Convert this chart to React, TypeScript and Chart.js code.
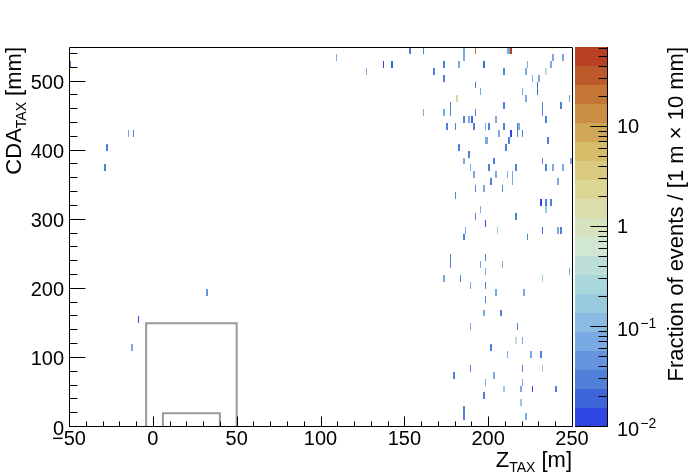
import React, { useEffect, useRef } from "react";
import { Chart, registerables } from "chart.js";

Chart.register(...registerables);

// ---- axes ----
const X_MIN = -50;
const X_MAX = 250;
const X_MAJOR = 50;
const X_MINOR = 10;
const Y_MIN = 0;
const Y_MAX = 550;
const Y_MAJOR = 100;
const Y_MINOR = 20;
const Z_MIN = 0.01;
const Z_MAX = 63;
const Z_LEVELS = 20;
const X_BIN = 1; // m
const Y_BIN = 10; // mm

const X_TITLE = ["Z", "TAX", " [m]"];
const Y_TITLE = ["CDA", "TAX", " [mm]"];
const Z_TITLE = "Fraction of events / [1 m \u00d7 10 mm]";
const Z_MAJOR_VALUES = [0.01, 0.1, 1, 10];
const Z_MAJOR_BASE = ["10", "10", "1", "10"];
const Z_MAJOR_EXP = ["\u22122", "\u22121", "", ""];

// ---- gray acceptance boxes ----
const OUTER_BOX_Z = [-4, -4, 50, 50];
const OUTER_BOX_CDA = [0, 150, 150, 0];
const INNER_BOX_Z = [6, 6, 40, 40];
const INNER_BOX_CDA = [0, 20, 20, 0];

// ---- histogram cells: [Z bin low edge (m), CDA bin low edge (mm), fraction] ----
const CELLS_UPPER: [number, number, number][] = [
  [153, 540, 0.03], [161, 540, 0.03], [185, 540, 0.07], [192, 540, 21], [211, 540, 0.07], [212, 540, 0.07], [213, 540, 50],
  [109, 530, 0.07], [185, 530, 0.07], [238, 530, 0.07], [244, 530, 0.07],
  [-50, 520, 0.03], [137, 520, 0.012], [142, 520, 0.02], [173, 520, 0.03], [182, 520, 0.07], [197, 520, 0.02], [223, 520, 0.07], [237, 520, 0.07],
  [127, 510, 0.07], [167, 510, 0.03], [209, 510, 0.03], [222, 510, 0.07], [234, 510, 0.41],
  [173, 500, 0.03], [226, 500, 0.07], [230, 500, 0.07],
  [192, 490, 0.03], [229, 490, 0.02],
  [195, 480, 0.07], [220, 480, 0.07], [229, 480, 0.02],
  [181, 470, 2.4], [222, 470, 0.07], [248, 470, 0.07],
  [177, 460, 0.03], [209, 460, 0.03], [232, 460, 0.03], [243, 460, 0.03],
  [161, 450, 0.07], [173, 450, 0.07], [177, 450, 0.03], [192, 450, 0.03], [232, 450, 0.03],
  [185, 440, 0.03], [188, 440, 0.07], [190, 440, 0.02], [204, 440, 0.07], [234, 440, 0.03],
  [175, 430, 0.03], [180, 430, 0.03], [191, 430, 0.03], [198, 430, 0.07], [200, 430, 0.03], [209, 430, 0.03], [217, 430, 0.03], [218, 430, 0.07],
  [-15, 420, 0.07], [-12, 420, 0.03], [206, 420, 0.07], [213, 420, 0.012], [217, 420, 0.03], [220, 420, 0.03],
  [198, 410, 0.07], [199, 410, 0.07], [212, 410, 0.03], [235, 410, 0.03],
  [-28, 400, 0.03], [182, 400, 0.03], [210, 400, 0.03],
];

const CELLS_MIDDLE: [number, number, number][] = [
  [188, 390, 0.03],
  [185, 380, 0.07], [203, 380, 0.03], [232, 380, 0.03], [249, 380, 0.07],
  [-29, 370, 0.03], [189, 370, 0.07], [200, 370, 0.03], [216, 370, 0.03], [234, 370, 0.03], [238, 370, 0.07], [244, 370, 0.07],
  [191, 360, 0.07], [204, 360, 0.07], [211, 360, 0.07], [214, 360, 0.07],
  [201, 350, 0.03], [214, 350, 0.07], [241, 350, 0.07],
  [192, 340, 0.03], [197, 340, 0.07], [208, 340, 0.03],
  [180, 330, 0.03],
  [231, 320, 0.012], [234, 320, 0.03], [237, 320, 0.03],
  [195, 310, 0.07], [234, 310, 0.17],
  [192, 300, 0.03], [216, 300, 0.03],
  [198, 290, 0.012],
  [186, 280, 0.07], [205, 280, 0.17], [232, 280, 0.02], [241, 280, 0.07], [243, 280, 0.03],
  [185, 270, 0.03], [223, 270, 0.03],
  [177, 240, 0.03], [198, 240, 0.03],
  [177, 230, 0.03], [195, 230, 0.07], [208, 230, 0.07],
  [198, 220, 0.07], [248, 220, 0.07],
  [173, 210, 0.07], [183, 210, 0.03], [232, 210, 0.17],
  [189, 200, 0.07], [198, 200, 0.03],
];

const CELLS_LOWER: [number, number, number][] = [
  [32, 190, 0.045], [204, 190, 0.07], [221, 190, 0.07],
  [198, 180, 0.03],
  [197, 160, 0.07], [207, 160, 0.03],
  [-9, 150, 0.012],
  [189, 140, 0.07], [217, 140, 0.03],
  [216, 120, 0.41], [220, 120, 0.07],
  [-13, 110, 0.07], [201, 110, 0.03],
  [211, 100, 0.07], [225, 100, 0.07], [231, 100, 0.03],
  [189, 80, 0.03], [220, 80, 0.03], [232, 80, 0.17],
  [179, 70, 0.03], [203, 70, 0.07],
  [198, 60, 0.07], [220, 60, 0.07],
  [209, 50, 0.17], [219, 50, 0.07], [226, 50, 0.012], [240, 50, 0.03],
  [197, 40, 0.03],
  [219, 30, 0.17],
  [185, 20, 0.03], [185, 10, 0.03], [222, 10, 0.07],
];

// ---- palette (light temperature) ----
const PAL_STOPS = [0, 0.125, 0.25, 0.375, 0.5, 0.625, 0.75, 0.875, 1];
const PAL_R = [31, 71, 123, 160, 210, 222, 214, 199, 183];
const PAL_G = [40, 117, 171, 211, 231, 220, 190, 132, 65];
const PAL_B = [234, 214, 228, 222, 210, 160, 105, 60, 34];

const FONT = "'Liberation Sans', Arial, Helvetica, sans-serif";

function paletteColor(f: number): string {
  f = Math.max(0, Math.min(1, f));
  let i = 0;
  while (i < PAL_STOPS.length - 2 && f > PAL_STOPS[i + 1]) i++;
  const t = (f - PAL_STOPS[i]) / (PAL_STOPS[i + 1] - PAL_STOPS[i]);
  const r = Math.round(PAL_R[i] + (PAL_R[i + 1] - PAL_R[i]) * t);
  const g = Math.round(PAL_G[i] + (PAL_G[i + 1] - PAL_G[i]) * t);
  const b = Math.round(PAL_B[i] + (PAL_B[i + 1] - PAL_B[i]) * t);
  return `rgb(${r},${g},${b})`;
}

function levelColor(k: number): string {
  const idx = Math.floor((k + 0.99) * 255 / Z_LEVELS);
  return paletteColor(idx / 254);
}

function levelOf(v: number): number {
  const k = Math.floor(Z_LEVELS * Math.log(v / Z_MIN) / Math.log(Z_MAX / Z_MIN));
  return Math.max(0, Math.min(Z_LEVELS - 1, k));
}

type Part = { t: string; size: number; dy: number };

function richParts(p: string[]): Part[] {
  return [
    { t: p[0], size: 22, dy: 0 },
    { t: p[1], size: 14, dy: 5 },
    { t: p[2], size: 22, dy: 0 },
  ];
}

function partsWidth(ctx: CanvasRenderingContext2D, parts: Part[]): number {
  let w = 0;
  for (const p of parts) {
    ctx.font = `${p.size}px ${FONT}`;
    w += ctx.measureText(p.t).width;
  }
  return w;
}

function drawParts(ctx: CanvasRenderingContext2D, parts: Part[], x: number, y: number) {
  ctx.textAlign = "left";
  ctx.textBaseline = "alphabetic";
  for (const p of parts) {
    ctx.font = `${p.size}px ${FONT}`;
    ctx.fillText(p.t, x, y + p.dy);
    x += ctx.measureText(p.t).width;
  }
}

const rootPlugin = {
  id: "rootStyle",
  beforeDatasetsDraw(chart: any) {
    const { ctx, chartArea, scales } = chart;
    const xs = scales.x, ys = scales.y;
    const cells = chart.data.datasets[0].data as { x: number; y: number; v: number }[];
    ctx.save();
    ctx.beginPath();
    ctx.rect(chartArea.left, chartArea.top, chartArea.right - chartArea.left, chartArea.bottom - chartArea.top);
    ctx.clip();
    for (const c of cells) {
      let x0 = Math.round(xs.getPixelForValue(c.x));
      let x1 = Math.round(xs.getPixelForValue(c.x + X_BIN));
      if (x1 <= x0) x1 = x0 + 1;
      let y0 = Math.round(ys.getPixelForValue(c.y + Y_BIN));
      let y1 = Math.round(ys.getPixelForValue(c.y));
      if (y1 <= y0) y1 = y0 + 1;
      ctx.fillStyle = levelColor(levelOf(c.v));
      ctx.fillRect(x0, y0, x1 - x0, y1 - y0);
    }
    ctx.restore();
  },
  afterDatasetsDraw(chart: any) {
    const { ctx, chartArea, scales } = chart;
    const xs = scales.x, ys = scales.y;
    const L = chartArea.left, R = chartArea.right, T = chartArea.top, B = chartArea.bottom;
    ctx.save();
    ctx.strokeStyle = "#000";
    ctx.lineWidth = 1;
    ctx.beginPath();
    ctx.rect(L + 0.5, T + 0.5, R - L, B - T - 1);
    ctx.stroke();
    // x ticks (inside, pointing up)
    ctx.beginPath();
    for (let v = X_MIN; v <= X_MAX + 1e-9; v += X_MINOR) {
      const px = Math.round(xs.getPixelForValue(v)) + 0.5;
      const len = v % X_MAJOR === 0 ? 10 : 5;
      ctx.moveTo(px, B - 0.5);
      ctx.lineTo(px, B - 0.5 - len);
    }
    // y ticks (inside, pointing right)
    for (let v = Y_MIN; v <= Y_MAX + 1e-9; v += Y_MINOR) {
      const py = Math.round(ys.getPixelForValue(v)) - 0.5;
      const len = v % Y_MAJOR === 0 ? 16 : 8;
      ctx.moveTo(L + 0.5, py);
      ctx.lineTo(L + 0.5 + len, py);
    }
    ctx.stroke();
    ctx.restore();
  },
  afterDraw(chart: any) {
    const { ctx, chartArea, scales } = chart;
    const zs = scales.z;
    const R = chartArea.right, T = chartArea.top, B = chartArea.bottom;
    const cbL = R + 3, cbR = R + 35;
    ctx.save();
    // colour bar
    for (let k = 0; k < Z_LEVELS; k++) {
      const lo = Z_MIN * Math.pow(Z_MAX / Z_MIN, k / Z_LEVELS);
      const hi = Z_MIN * Math.pow(Z_MAX / Z_MIN, (k + 1) / Z_LEVELS);
      const y0 = Math.round(zs.getPixelForValue(hi));
      const y1 = Math.round(zs.getPixelForValue(lo));
      ctx.fillStyle = levelColor(k);
      ctx.fillRect(cbL, y0, cbR - cbL, y1 - y0);
    }
    ctx.strokeStyle = "#000";
    ctx.lineWidth = 1;
    ctx.beginPath();
    ctx.moveTo(cbR + 0.5, T);
    ctx.lineTo(cbR + 0.5, B);
    ctx.moveTo(cbL, B - 0.5);
    ctx.lineTo(cbR + 1, B - 0.5);
    // colour bar ticks
    for (let d = -2; d <= 1; d++) {
      for (let m = 1; m <= 9; m++) {
        const v = m * Math.pow(10, d);
        if (v < Z_MIN * 0.999 || v > Z_MAX) continue;
        const py = Math.round(zs.getPixelForValue(v)) - 0.5;
        const len = m === 1 ? 17 : 9;
        ctx.moveTo(cbR + 0.5, py);
        ctx.lineTo(cbR + 0.5 - len, py);
      }
    }
    ctx.stroke();
    // colour bar labels
    ctx.fillStyle = "#000";
    const lx = cbR + 10;
    Z_MAJOR_VALUES.forEach((v, i) => {
      const py = zs.getPixelForValue(v);
      ctx.textAlign = "left";
      if (Z_MAJOR_EXP[i]) {
        ctx.textBaseline = "alphabetic";
        ctx.font = `20px ${FONT}`;
        ctx.fillText(Z_MAJOR_BASE[i], lx, py + 9);
        const w = ctx.measureText(Z_MAJOR_BASE[i]).width;
        ctx.font = `14px ${FONT}`;
        ctx.fillText(Z_MAJOR_EXP[i], lx + w + 1, py + 1);
      } else {
        ctx.textBaseline = "middle";
        ctx.font = `20px ${FONT}`;
        ctx.fillText(Z_MAJOR_BASE[i], lx, py + 1);
      }
    });
    // x title
    const xp = richParts(X_TITLE);
    const xw = partsWidth(ctx, xp);
    drawParts(ctx, xp, R - xw, 467);
    // y title (rotated)
    const yp = richParts(Y_TITLE);
    const yw = partsWidth(ctx, yp);
    ctx.save();
    ctx.translate(21, T + yw);
    ctx.rotate(-Math.PI / 2);
    drawParts(ctx, yp, 0, 0);
    ctx.restore();
    // z title (rotated)
    ctx.font = `22px ${FONT}`;
    const zw = ctx.measureText(Z_TITLE).width;
    ctx.save();
    ctx.translate(683, T + zw);
    ctx.rotate(-Math.PI / 2);
    ctx.textAlign = "left";
    ctx.textBaseline = "alphabetic";
    ctx.fillText(Z_TITLE, 0, 0);
    ctx.restore();
    ctx.restore();
  },
};

function fmtTick(v: number): string {
  return v < 0 ? "\u2212" + Math.abs(v) : String(v);
}

export default function App() {
  const ref = useRef<HTMLCanvasElement>(null);
  useEffect(() => {
    document.body.style.margin = "0";
    const canvas = ref.current!;
    const cells = [...CELLS_UPPER, ...CELLS_MIDDLE, ...CELLS_LOWER].map(([x, y, v]) => ({ x, y, v }));
    const box = (zs: number[], cs: number[]) => zs.map((z, i) => ({ x: z, y: cs[i] }));
    const tickFont = { family: FONT, size: 20 };
    const chart = new Chart(canvas, {
      type: "scatter",
      data: {
        datasets: [
          { data: cells as any, pointRadius: 0, showLine: false },
          {
            data: box(OUTER_BOX_Z, OUTER_BOX_CDA),
            showLine: true, pointRadius: 0, borderColor: "#999999", borderWidth: 2, tension: 0, fill: false,
          },
          {
            data: box(INNER_BOX_Z, INNER_BOX_CDA),
            showLine: true, pointRadius: 0, borderColor: "#999999", borderWidth: 2, tension: 0, fill: false,
          },
        ],
      },
      options: {
        responsive: false,
        animation: false,
        devicePixelRatio: 1,
        events: [],
        layout: { padding: { top: 47, right: 126, left: 0, bottom: 0 } },
        plugins: { legend: { display: false }, tooltip: { enabled: false } },
        scales: {
          x: {
            type: "linear",
            min: X_MIN,
            max: X_MAX,
            grid: { display: false, drawTicks: false },
            border: { display: false },
            ticks: {
              stepSize: X_MAJOR, autoSkip: false, maxRotation: 0, padding: 0,
              color: "#000", font: tickFont, callback: (v: any) => fmtTick(Number(v)),
            },
            afterFit: (s: any) => { s.height = 48; },
          },
          y: {
            type: "linear",
            min: Y_MIN,
            max: Y_MAX,
            grid: { display: false, drawTicks: false },
            border: { display: false },
            ticks: {
              stepSize: Y_MAJOR, autoSkip: false, padding: 5, labelOffset: 2,
              color: "#000", font: tickFont, callback: (v: any) => fmtTick(Number(v)),
            },
            afterBuildTicks: (s: any) => { s.ticks = s.ticks.filter((t: any) => t.value % Y_MAJOR === 0); },
            afterFit: (s: any) => { s.width = 69; },
          },
          z: {
            type: "logarithmic",
            display: false,
            position: "right",
            min: Z_MIN,
            max: Z_MAX,
          },
        },
      } as any,
      plugins: [rootPlugin],
    });
    return () => chart.destroy();
  }, []);
  return <canvas ref={ref} width={698} height={475} style={{ display: "block" }} />;
}
